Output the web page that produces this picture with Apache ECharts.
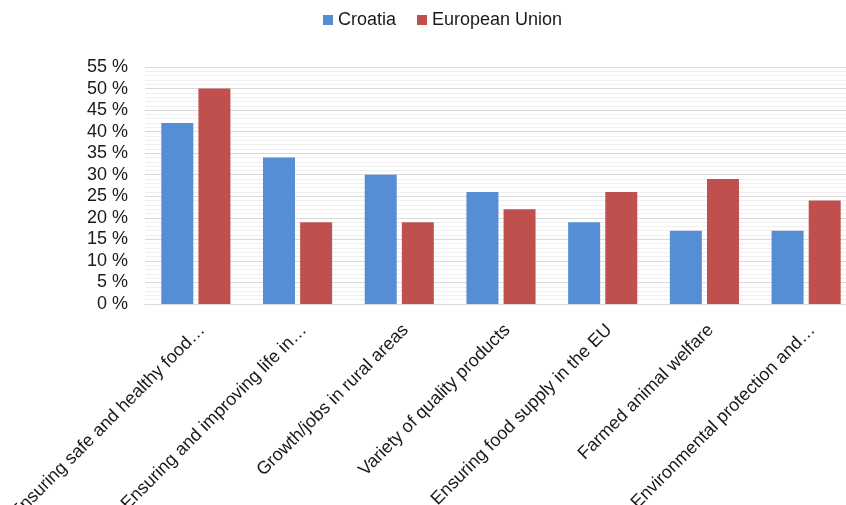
<!DOCTYPE html>
<html><head><meta charset="utf-8">
<script src="https://cdn.jsdelivr.net/npm/echarts@6/dist/echarts.min.js"></script>
<style>html,body{margin:0;padding:0;background:#fff}#c{width:846px;height:505px}</style>
</head><body><div id="c"></div>
<script>
var categories = ["Ensuring safe and healthy food…","Ensuring and improving life in…","Growth/jobs in rural areas","Variety of quality products","Ensuring food supply in the EU","Farmed animal welfare","Environmental protection and…"];
var croatia = [42, 34, 30, 26, 19, 17, 17];
var eu = [50, 19, 19, 22, 26, 29, 24];
var FF = 'Liberation Sans, Arial, sans-serif';
var chart = echarts.init(document.getElementById('c'));
chart.setOption({
  animation: false,
  textStyle: {fontFamily: FF},
  legend: {
    top: 6, left: 318, itemWidth: 10, itemHeight: 10, itemGap: 21,
    icon: 'rect',
    textStyle: {fontSize: 18, color: '#1a1a1a', fontFamily: FF},
    data: ['Croatia', 'European Union']
  },
  grid: {left: 145, right: -11, top: 67, bottom: 201, containLabel: false, outerBoundsMode: 'none'},
  xAxis: {
    type: 'category', data: categories,
    axisTick: {show: false},
    axisLine: {lineStyle: {color: '#d9d9d9', width: 1}},
    axisLabel: {rotate: 45, fontSize: 18, color: '#1a1a1a', margin: 17, interval: 0,
      align: 'right', verticalAlign: 'top', fontFamily: FF, hideOverlap: false}
  },
  yAxis: {
    type: 'value', min: 0, max: 55, interval: 5,
    axisLine: {show: false}, axisTick: {show: false},
    axisLabel: {fontSize: 18, color: '#1a1a1a', margin: 17, formatter: '{value} %', fontFamily: FF},
    splitLine: {lineStyle: {color: '#d9d9d9', width: 1}},
    minorTick: {show: false, splitNumber: 5},
    minorSplitLine: {show: true, lineStyle: {color: '#efefef', width: 1}}
  },
  series: [
    {name: 'Croatia', type: 'bar', data: croatia, barWidth: 32, barGap: '16%',
      itemStyle: {color: '#558ed5'}},
    {name: 'European Union', type: 'bar', data: eu, barWidth: 32,
      itemStyle: {color: '#c0504d'}}
  ]
});
</script></body></html>
